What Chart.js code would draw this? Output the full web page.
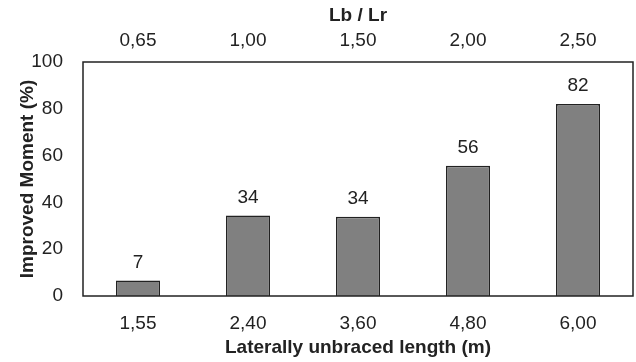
<!DOCTYPE html>
<html>
<head>
<meta charset="utf-8">
<script src="https://cdn.jsdelivr.net/npm/chart.js@4/dist/chart.umd.min.js"></script>
<style>
  html, body { margin: 0; padding: 0; background: #fff; }
  #wrap { width: 636px; height: 362px; }
</style>
</head>
<body>
<div id="wrap"><canvas id="c"></canvas></div>
<script>
const lengths = ['1,55', '2,40', '3,60', '4,80', '6,00'];   // bottom axis
const ratios = ['0,65', '1,00', '1,50', '2,00', '2,50'];    // top axis Lb / Lr
const improved = [6.6, 34.4, 33.9, 55.7, 82];               // improved moment (%)

const font = 'Liberation Sans, Arial, sans-serif';
const ink = '#222';
const fs = 19;

// value labels on top of each bar + box around the plot
const barLabels = {
  id: 'barLabels',
  afterDatasetsDraw(chart) {
    const ctx = chart.ctx;
    const a = chart.chartArea;
    ctx.save();
    ctx.strokeStyle = '#222';
    ctx.lineWidth = 1.5;
    ctx.strokeRect(a.left, a.top, a.right - a.left, a.bottom - a.top);
    ctx.fillStyle = ink;
    ctx.font = fs + 'px ' + font;
    ctx.textAlign = 'center';
    ctx.textBaseline = 'middle';
    chart.getDatasetMeta(0).data.forEach((bar, i) => {
      ctx.fillText(Math.round(improved[i]), bar.x, bar.y - 18);
    });
    ctx.restore();
  }
};

const noGrid = { display: false, drawTicks: false };

new Chart(document.getElementById('c'), {
  type: 'bar',
  data: {
    labels: lengths,
    datasets: [{
      data: improved,
      backgroundColor: '#808080',
      borderColor: '#222',
      borderWidth: 1.5,
      barPercentage: 0.4,
      categoryPercentage: 1.0,
      xAxisID: 'x',
      yAxisID: 'y'
    }]
  },
  options: {
    responsive: true,
    maintainAspectRatio: false,
    animation: false,
    layout: { padding: { top: 0, right: 3, bottom: 0, left: 0 } },
    plugins: {
      legend: { display: false },
      tooltip: { enabled: false }
    },
    scales: {
      x: {
        position: 'bottom',
        grid: noGrid,
        border: { display: false },
        ticks: { color: ink, font: { family: font, size: fs }, padding: 16 },
        title: { display: true, text: 'Laterally unbraced length (m)', color: ink,
                 font: { family: font, size: fs, weight: 'bold' }, padding: { top: 0, bottom: 3 } },
        afterFit(s) { s.height = 66; }
      },
      x2: {
        type: 'category',
        position: 'top',
        labels: ratios,
        grid: noGrid,
        border: { display: false },
        ticks: { color: ink, font: { family: font, size: fs }, padding: 10 },
        title: { display: true, text: 'Lb / Lr', color: ink,
                 font: { family: font, size: fs, weight: 'bold' }, padding: { top: 4, bottom: 0 } },
        afterFit(s) { s.height = 62; }
      },
      y: {
        min: 0,
        max: 100,
        grid: noGrid,
        border: { display: false },
        ticks: { stepSize: 20, color: ink, font: { family: font, size: fs }, padding: 20 },
        title: { display: true, text: 'Improved Moment (%)', color: ink,
                 font: { family: font, size: fs, weight: 'bold' }, padding: { top: 16, bottom: 0 } },
        afterFit(s) { s.width = 83; }
      }
    }
  },
  plugins: [barLabels]
});
</script>
</body>
</html>
